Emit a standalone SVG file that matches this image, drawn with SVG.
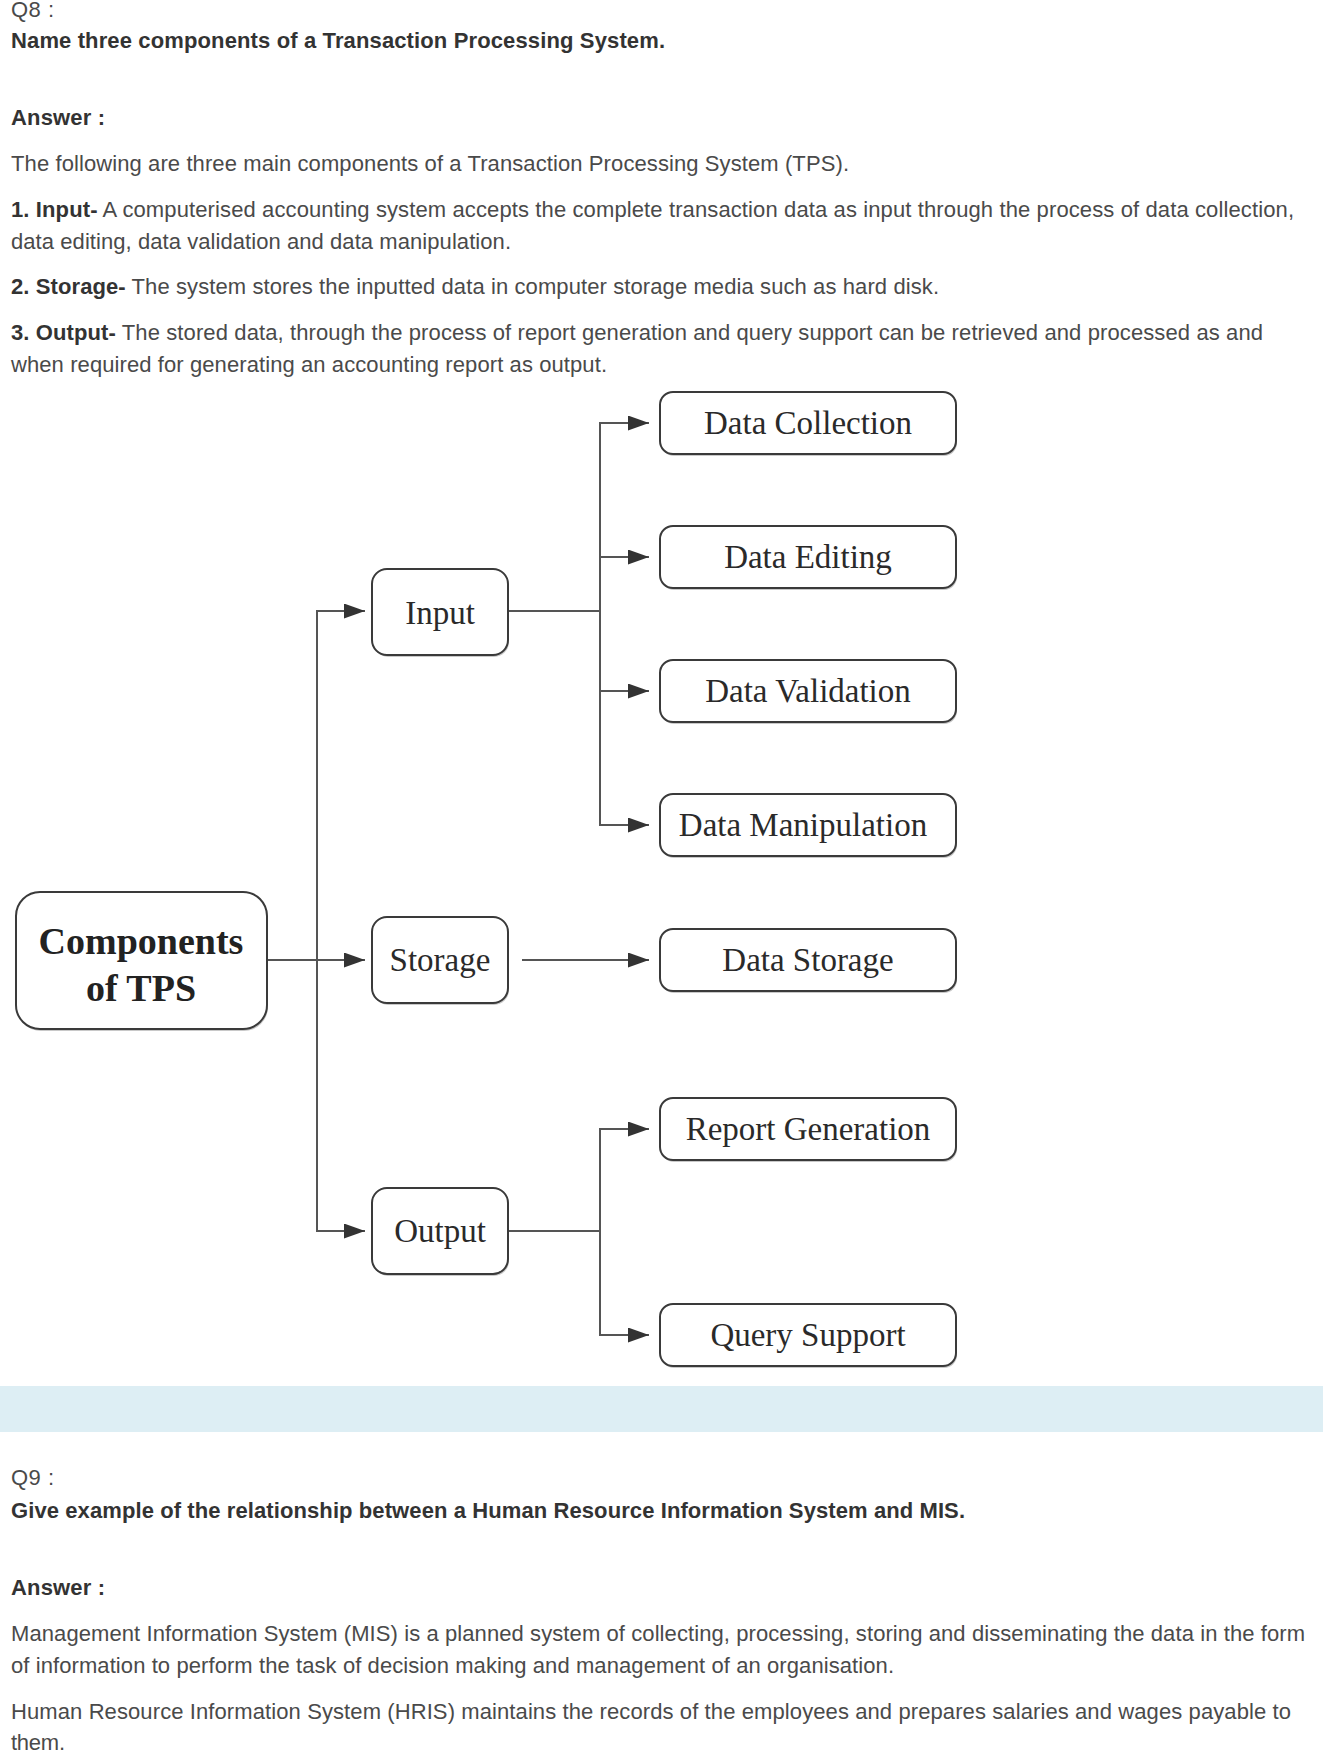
<svg xmlns="http://www.w3.org/2000/svg" width="1323" height="1752" viewBox="0 0 1323 1752">
<style>
.t{font-family:"Liberation Sans",Arial,sans-serif;font-size:22px;fill:#4a4a4a}
.b{font-weight:bold;fill:#333}
.box{fill:#fff;stroke:#3a3a3a;stroke-width:2}
.sh{fill:#c8c8c8}
.lbl{font-family:"Liberation Serif","Times New Roman",serif;font-size:33px;fill:#2a2a2a;text-anchor:middle}
.big{font-family:"Liberation Serif","Times New Roman",serif;font-size:38px;font-weight:bold;fill:#222;text-anchor:middle}
.conn{stroke:#555;stroke-width:2;fill:none}
</style>
<defs>
<marker id="ah" markerUnits="userSpaceOnUse" markerWidth="21" markerHeight="15" refX="21" refY="7.5" orient="auto">
<path d="M0,0 L21,7.5 L0,15 Z" fill="#333"/>
</marker>
</defs>
<rect x="0" y="0" width="1323" height="1752" fill="#fff"/>

<g id="text-q8">
<text class="t" x="11" y="17" fill="#555" textLength="43">Q8 :</text>
<text class="t b" x="11" y="48" textLength="654">Name three components of a Transaction Processing System.</text>
<text class="t b" x="11" y="125" textLength="94">Answer :</text>
<text class="t" x="11" y="171" textLength="838">The following are three main components of a Transaction Processing System (TPS).</text>
<text class="t" x="11" y="217" textLength="1283"><tspan class="b">1. Input-</tspan> A computerised accounting system accepts the complete transaction data as input through the process of data collection,</text>
<text class="t" x="11" y="249" textLength="500">data editing, data validation and data manipulation.</text>
<text class="t" x="11" y="294" textLength="928"><tspan class="b">2. Storage-</tspan> The system stores the inputted data in computer storage media such as hard disk.</text>
<text class="t" x="11" y="340" textLength="1252"><tspan class="b">3. Output-</tspan> The stored data, through the process of report generation and query support can be retrieved and processed as and</text>
<text class="t" x="11" y="372" textLength="596">when required for generating an accounting report as output.</text>
</g>

<g id="connectors">
<path class="conn" d="M267,960 H365" marker-end="url(#ah)"/>
<path class="conn" d="M317,960 V611 H365" marker-end="url(#ah)"/>
<path class="conn" d="M317,960 V1231 H365" marker-end="url(#ah)"/>
<path class="conn" d="M508,611 H600"/>
<path class="conn" d="M600,611 V423 H649" marker-end="url(#ah)"/>
<path class="conn" d="M600,611 V557 H649" marker-end="url(#ah)"/>
<path class="conn" d="M600,611 V691 H649" marker-end="url(#ah)"/>
<path class="conn" d="M600,611 V825 H649" marker-end="url(#ah)"/>
<path class="conn" d="M522,960 H649" marker-end="url(#ah)"/>
<path class="conn" d="M508,1231 H600"/>
<path class="conn" d="M600,1231 V1129 H649" marker-end="url(#ah)"/>
<path class="conn" d="M600,1231 V1335 H649" marker-end="url(#ah)"/>
</g>

<g id="node-components">
<rect class="sh" x="17" y="894" width="251" height="137" rx="24"/>
<rect class="box" x="16" y="892" width="251" height="137" rx="24"/>
<text class="big" x="141" y="954">Components</text>
<text class="big" x="141" y="1001">of TPS</text>
</g>
<g id="node-input">
<rect class="sh" x="373" y="571" width="136" height="86" rx="15"/>
<rect class="box" x="372" y="569" width="136" height="86" rx="15"/>
<text class="lbl" x="440" y="624">Input</text>
</g>
<g id="node-storage">
<rect class="sh" x="373" y="919" width="136" height="86" rx="15"/>
<rect class="box" x="372" y="917" width="136" height="86" rx="15"/>
<text class="lbl" x="440" y="971">Storage</text>
</g>
<g id="node-output">
<rect class="sh" x="373" y="1190" width="136" height="86" rx="15"/>
<rect class="box" x="372" y="1188" width="136" height="86" rx="15"/>
<text class="lbl" x="440" y="1242">Output</text>
</g>
<g id="node-data-collection">
<rect class="sh" x="661" y="394" width="296" height="62" rx="13"/>
<rect class="box" x="660" y="392" width="296" height="62" rx="13"/>
<text class="lbl" x="808" y="434">Data Collection</text>
</g>
<g id="node-data-editing">
<rect class="sh" x="661" y="528" width="296" height="62" rx="13"/>
<rect class="box" x="660" y="526" width="296" height="62" rx="13"/>
<text class="lbl" x="808" y="568">Data Editing</text>
</g>
<g id="node-data-validation">
<rect class="sh" x="661" y="662" width="296" height="62" rx="13"/>
<rect class="box" x="660" y="660" width="296" height="62" rx="13"/>
<text class="lbl" x="808" y="702">Data Validation</text>
</g>
<g id="node-data-manipulation">
<rect class="sh" x="661" y="796" width="296" height="62" rx="13"/>
<rect class="box" x="660" y="794" width="296" height="62" rx="13"/>
<text class="lbl" x="803" y="836">Data Manipulation</text>
</g>
<g id="node-data-storage">
<rect class="sh" x="661" y="931" width="296" height="62" rx="13"/>
<rect class="box" x="660" y="929" width="296" height="62" rx="13"/>
<text class="lbl" x="808" y="971">Data Storage</text>
</g>
<g id="node-report-generation">
<rect class="sh" x="661" y="1100" width="296" height="62" rx="13"/>
<rect class="box" x="660" y="1098" width="296" height="62" rx="13"/>
<text class="lbl" x="808" y="1140">Report Generation</text>
</g>
<g id="node-query-support">
<rect class="sh" x="661" y="1306" width="296" height="62" rx="13"/>
<rect class="box" x="660" y="1304" width="296" height="62" rx="13"/>
<text class="lbl" x="808" y="1346">Query Support</text>
</g>

<rect id="band" x="0" y="1386" width="1323" height="46" fill="#ddeef4"/>

<g id="text-q9">
<text class="t" x="11" y="1485" fill="#555" textLength="43">Q9 :</text>
<text class="t b" x="11" y="1518" textLength="954">Give example of the relationship between a Human Resource Information System and MIS.</text>
<text class="t b" x="11" y="1595" textLength="94">Answer :</text>
<text class="t" x="11" y="1641" textLength="1294">Management Information System (MIS) is a planned system of collecting, processing, storing and disseminating the data in the form</text>
<text class="t" x="11" y="1673" textLength="883">of information to perform the task of decision making and management of an organisation.</text>
<text class="t" x="11" y="1719" textLength="1280">Human Resource Information System (HRIS) maintains the records of the employees and prepares salaries and wages payable to</text>
<text class="t" x="11" y="1750" textLength="54">them.</text>
</g>
</svg>
